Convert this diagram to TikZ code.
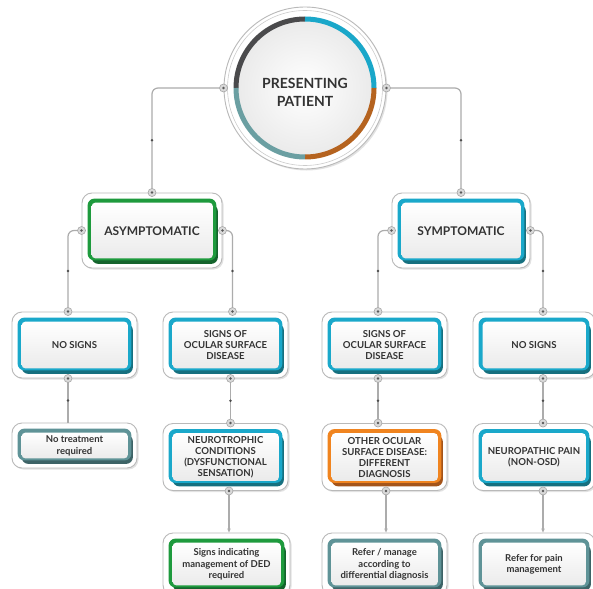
\documentclass[tikz,border=0pt]{standalone}
\usepackage{fontspec}
\setmainfont{Lato}
\usetikzlibrary{calc,shadows,arrows.meta}
\definecolor{cy}{HTML}{1AA8CA}
\definecolor{cyd}{HTML}{16707F}
\definecolor{gr}{HTML}{1E9A3D}
\definecolor{grd}{HTML}{14632C}
\definecolor{orn}{HTML}{F0841F}
\definecolor{ornd}{HTML}{A4541A}
\definecolor{tg}{HTML}{5F9397}
\definecolor{tgd}{HTML}{3D6366}
\definecolor{arcdk}{HTML}{4A4A4C}
\definecolor{arccy}{HTML}{1AA7C9}
\definecolor{arcbr}{HTML}{B5631F}
\definecolor{arctl}{HTML}{6B9FA2}
\definecolor{txtc}{HTML}{333333}
\tikzset{
 frame/.style={draw=gray!55, line width=0.9pt, fill=white, rounded corners=10pt, inner sep=0pt,
   drop shadow={shadow xshift=1.5pt, shadow yshift=-1.5pt, fill=gray!45, opacity=0.5}},
 conn/.style={draw=gray!65, line width=1.2pt, rounded corners=6pt},
 jdot/.style={circle, fill=gray!30, draw=gray!70, line width=0.6pt, minimum size=8pt, inner sep=0pt,
   path picture={\fill[black!65] (path picture bounding box.center) circle (1.4pt);}},
 midmark/.style={circle, fill=black!70, inner sep=0pt, minimum size=2.6pt},
 htxt/.style={text=txtc, align=center, font=\bfseries\fontsize{12}{14}\selectfont, inner sep=0pt},
 txt/.style={text=txtc, align=center, font=\bfseries\fontsize{9.6}{11}\selectfont, inner sep=0pt},
 ltxt/.style={text=txtc, align=center, font=\bfseries\fontsize{9.5}{11.3}\selectfont, inner sep=0pt},
}
\newcommand\mkbox[9]{%
 \node[frame, minimum width=#4pt, minimum height=#5pt] (#1) at (#2,#3) {};
 \fill[#7, rounded corners=7pt] ($(#1.north west)+(10,12)$) rectangle ($(#1.south east)+(-4.5,-4.5)$);
 \fill[#6, rounded corners=7pt] ($(#1.north west)+(6,6)$) rectangle ($(#1.south east)+(-6,-8)$);
 \shade[rounded corners=4pt, top color=white, bottom color=gray!16]
   ($(#1.north west)+(10,10)$) rectangle ($(#1.south east)+(-9.5,-10)$);
 \node[#8] (#1-l) at ($(#1.center)+(0,0.5)$) {#9};
}
\begin{document}
\begin{tikzpicture}[x=1pt,y=-1pt]
\useasboundingbox (0,0) rectangle (593,588);
\fill[white] (0,0) rectangle (593,588);

% central circle
\node[circle, minimum size=162pt, draw=gray!55, line width=0.9pt, fill=white, inner sep=0pt,
  drop shadow={shadow xshift=1.5pt, shadow yshift=-1.5pt, fill=gray!45, opacity=0.5}] (pp) at (305,88) {};
\draw[gray!40, line width=0.6pt] (pp.center) circle (77.5);
\shade[inner color=white, outer color=gray!16] (pp.center) circle (67);
\draw[arcdk, line width=5pt] ($(pp.center)+(180:69)$) arc (180:270:69);
\draw[arccy, line width=5pt] ($(pp.center)+(270:69)$) arc (270:360:69);
\draw[arcbr, line width=5pt] ($(pp.center)+(0:69)$) arc (0:90:69);
\draw[arctl, line width=5pt] ($(pp.center)+(90:69)$) arc (90:180:69);
\node[text=txtc, align=center, font=\bfseries\fontsize{14}{18}\selectfont] (pp-l) at (305,92) {PRESENTING\\PATIENT};

% boxes
\mkbox{asym}{152}{230.5}{140}{75}{gr}{grd}{htxt}{ASYMPTOMATIC}
\mkbox{sym}{461}{230.5}{138}{75}{cy}{cyd}{htxt}{SYMPTOMATIC}

\mkbox{nsa}{74.5}{345}{125}{66}{cy}{cyd}{txt}{NO SIGNS}
\mkbox{osa}{225.5}{345}{125}{66}{cy}{cyd}{txt}{SIGNS OF\\OCULAR SURFACE\\DISEASE}
\mkbox{osb}{384.5}{345}{125}{66}{cy}{cyd}{txt}{SIGNS OF\\OCULAR SURFACE\\DISEASE}
\mkbox{nsb}{534}{345}{122}{66}{cy}{cyd}{txt}{NO SIGNS}

\mkbox{ntr}{74.5}{445.5}{125}{45}{tg}{tgd}{ltxt}{No treatment\\required}
\mkbox{neu}{225.5}{457}{125}{67}{cy}{cyd}{txt}{NEUROTROPHIC\\CONDITIONS\\(DYSFUNCTIONAL\\SENSATION)}
\mkbox{oth}{384.5}{457}{125}{67}{orn}{ornd}{txt}{OTHER OCULAR\\SURFACE DISEASE:\\DIFFERENT\\DIAGNOSIS}
\mkbox{npp}{534}{457}{122}{67}{cy}{cyd}{txt}{NEUROPATHIC PAIN\\(NON-OSD)}

\mkbox{sig}{226.5}{564}{127}{62}{gr}{grd}{ltxt}{Signs indicating\\management of DED\\required}
\mkbox{ref}{384.5}{564}{125}{62}{tg}{tgd}{ltxt}{Refer / manage\\according to\\differential diagnosis}
\mkbox{rfp}{534}{564}{122}{62}{tg}{tgd}{ltxt}{Refer for pain\\management}

% connector end points
\coordinate (nsaT) at ([xshift=-6.5pt]nsa.north);
\coordinate (osaT) at ([xshift=7pt]osa.north);
\coordinate (osbT) at ([xshift=-6.5pt]osb.north);
\coordinate (nsbT) at ([xshift=9pt]nsb.north);
\coordinate (nsaB) at ([xshift=-6.5pt]nsa.south);
\coordinate (osaB) at ([xshift=5pt]osa.south);
\coordinate (osbB) at ([xshift=-6.5pt]osb.south);
\coordinate (nsbB) at ([xshift=9pt]nsb.south);
\coordinate (ntrT) at (nsaB |- ntr.north);
\coordinate (neuT) at (osaB |- neu.north);
\coordinate (othT) at (osbB |- oth.north);
\coordinate (nppT) at (nsbB |- npp.north);
\coordinate (neuB) at ([xshift=3.5pt]neu.south);
\coordinate (othB) at ([xshift=1.5pt]oth.south);
\coordinate (nppB) at ([xshift=9pt]npp.south);
\coordinate (sigT) at (neuB |- sig.north);
\coordinate (refT) at (othB |- ref.north);
\coordinate (rfpT) at (nppB |- rfp.north);

% connectors
\draw[conn] (pp.west) -| node[midmark, pos=0.75] (m1) {} (asym.north);
\draw[conn] (pp.east) -| node[midmark, pos=0.75] (m2) {} (sym.north);
\draw[conn] (asym.west) -| node[midmark, pos=0.75] (m3) {} (nsaT);
\draw[conn] (asym.east) -| node[midmark, pos=0.75] (m4) {} (osaT);
\draw[conn] (sym.west) -| node[midmark, pos=0.75] (m5) {} (osbT);
\draw[conn] (sym.east) -| node[midmark, pos=0.75] (m6) {} (nsbT);
\draw[conn] (nsaB) -- node[midmark] (m7) {} (ntrT);
\draw[conn] (osaB) -- node[midmark] (m8) {} (neuT);
\draw[conn] (osbB) -- node[midmark] (m9) {} (othT);
\draw[conn] (nsbB) -- node[midmark] (m10) {} (nppT);
\draw[conn, -{Stealth[length=4pt, width=3.5pt]}] (neuB) -- (sigT);
\draw[conn, -{Stealth[length=4pt, width=3.5pt]}] (othB) -- (refT);
\draw[conn, -{Stealth[length=4pt, width=3.5pt]}] (nppB) -- (rfpT);

% junction dots
\foreach \p [count=\i] in {pp.west, pp.east, asym.north, asym.west, asym.east, sym.north, sym.west, sym.east,
  nsaT, osaT, osbT, nsbT, nsaB, osaB, osbB, nsbB, neuT, othT, nppT, neuB, othB, nppB}
  \node[jdot] (dot\i) at (\p) {};
\end{tikzpicture}
\end{document}
